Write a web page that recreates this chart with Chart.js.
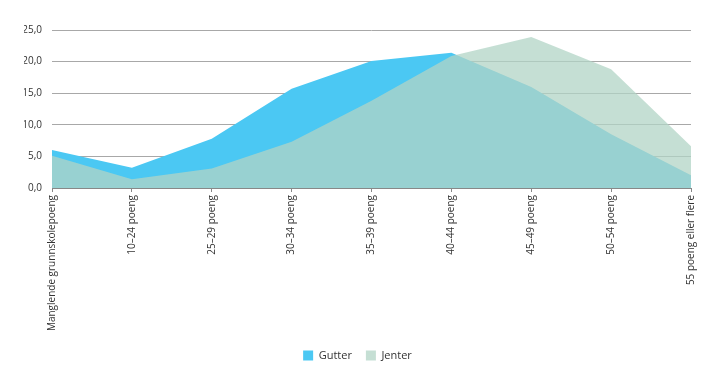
<!DOCTYPE html>
<html>
<head>
<meta charset="utf-8">
<script src="https://cdn.jsdelivr.net/npm/chart.js@4/dist/chart.umd.min.js"></script>
<style>
  html, body { margin: 0; padding: 0; background: #fff; }
  #wrap { width: 719px; height: 383px; }
</style>
</head>
<body>
<div id="wrap"><canvas id="c" width="719" height="383"></canvas></div>
<script>
// categories and series
const categories = [
  'Manglende grunnskolepoeng', '10–24 poeng', '25–29 poeng', '30–34 poeng',
  '35–39 poeng', '40–44 poeng', '45–49 poeng', '50–54 poeng', '55 poeng eller flere'
];
const gutter = [6.0, 3.2, 7.8, 15.7, 20.1, 21.4, 16.0, 8.5, 2.0];
const jenter = [5.1, 1.4, 3.1, 7.3, 13.8, 20.9, 23.9, 18.8, 6.6];
const yTicks = [0, 5, 10, 15, 20, 25];

const textColor = '#333333';
const fontFamily = '"Open Sans", "Noto Sans", sans-serif';

const ctx = document.getElementById('c');
new Chart(ctx, {
  type: 'line',
  data: {
    labels: categories,
    datasets: [
      {
        // drawn last, sits on top
        label: 'Jenter',
        data: jenter,
        fill: 'origin',
        borderWidth: 0,
        pointRadius: 0,
        tension: 0,
        borderColor: 'rgba(0,0,0,0)',
        backgroundColor: 'rgba(178,212,197,0.75)'
      },
      {
        label: 'Gutter',
        data: gutter,
        fill: 'origin',
        borderWidth: 0,
        pointRadius: 0,
        tension: 0,
        borderColor: 'rgba(0,0,0,0)',
        backgroundColor: '#4bc8f3'
      }
    ]
  },
  options: {
    responsive: false,
    animation: false,
    layout: { padding: { top: 30, right: 28, bottom: 12, left: 24 } },
    scales: {
      x: {
        grid: { drawOnChartArea: false, drawTicks: true, tickLength: 4, color: '#888' },
        border: { display: true, color: '#888', width: 1 },
        ticks: {
          minRotation: 90, maxRotation: 90, autoSkip: false,
          color: textColor, padding: 3,
          font: { family: fontFamily, size: 10 }
        },
        afterFit: s => { s.height = 148; }
      },
      y: {
        min: 0, max: 25,
        afterBuildTicks: s => { s.ticks = yTicks.map(v => ({ value: v })); },
        grid: { color: '#a8a8a8', lineWidth: 1, drawTicks: false },
        border: { display: false },
        ticks: {
          color: textColor, padding: 10,
          font: { family: fontFamily, size: 10 },
          callback: v => v.toFixed(1).replace('.', ',')
        },
        afterFit: s => { s.width = 28; }
      }
    },
    plugins: {
      legend: {
        position: 'bottom',
        labels: {
          boxWidth: 10, boxHeight: 10, padding: 14,
          color: textColor,
          font: { family: fontFamily, size: 11 },
          sort: (a, b) => b.datasetIndex - a.datasetIndex
        }
      },
      tooltip: { enabled: false }
    }
  }
});
</script>
</body>
</html>
